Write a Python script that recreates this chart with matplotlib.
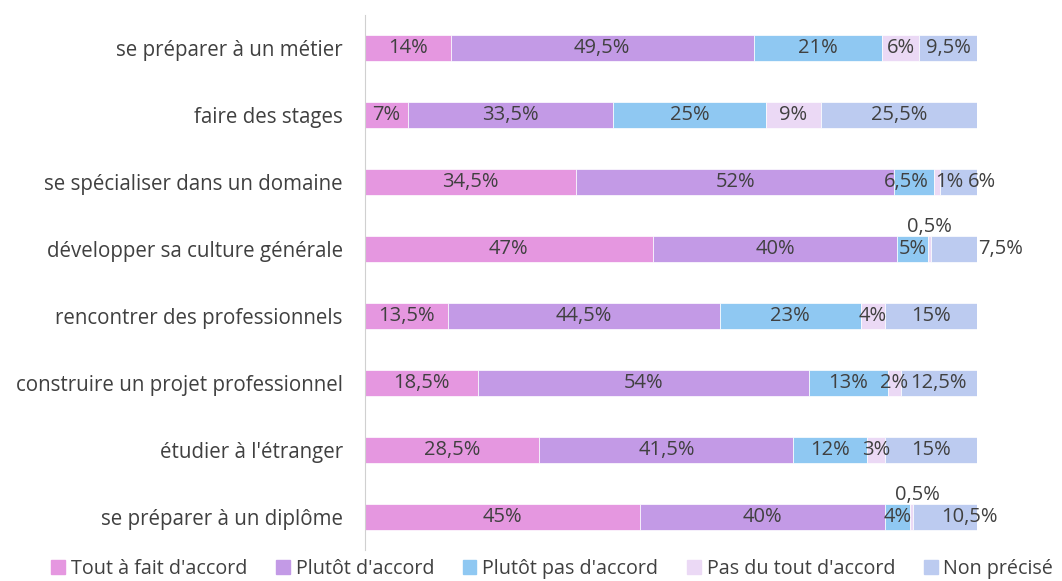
import matplotlib.pyplot as plt
from matplotlib.patches import Patch

plt.rcParams['font.family'] = ['Open Sans', 'DejaVu Sans']

categories = ["se préparer à un métier", "faire des stages", "se spécialiser dans un domaine",
              "développer sa culture générale", "rencontrer des professionnels",
              "construire un projet professionnel", "étudier à l'étranger", "se préparer à un diplôme"]
series = ["Tout à fait d'accord", "Plutôt d'accord", "Plutôt pas d'accord",
          "Pas du tout d'accord", "Non précisé"]
tout_a_fait = [14, 7, 34.5, 47, 13.5, 18.5, 28.5, 45]
plutot = [49.5, 33.5, 52, 40, 44.5, 54, 41.5, 40]
plutot_pas = [21, 25, 6.5, 5, 23, 13, 12, 4]
pas_du_tout = [6, 9, 1, 0.5, 4, 2, 3, 0.5]
non_precise = [9.5, 25.5, 6, 7.5, 15, 12.5, 15, 10.5]

colors = ['#E597E0', '#C39AE6', '#8FC8F2', '#EBD9F5', '#BCCBF0']
values = [tout_a_fait, plutot, plutot_pas, pas_du_tout, non_precise]

# label nudges (pixels) where labels would collide
nudges = {(2, 2): (-8, 0), (2, 3): (12, 0), (2, 4): (23, 0),
          (3, 3): (0, 22), (3, 4): (46, 0),
          (7, 3): (6, 22), (7, 4): (25, 0)}

fig = plt.figure(figsize=(10.62, 5.81), dpi=100)
ax = fig.add_axes([0.3437, 0.0525, 0.5763, 0.9225])

y = list(range(len(categories)))[::-1]
left = [0] * len(categories)
for s, (name, vals, c) in enumerate(zip(series, values, colors)):
    ax.barh(y, vals, left=left, height=0.39, color=c, label=name,
            edgecolor='white', linewidth=0.5)
    for i, v in enumerate(vals):
        dx, dy = nudges.get((i, s), (0, 0))
        ax.annotate(f"{v:g}%".replace('.', ','), (left[i] + v / 2, y[i]),
                    xytext=(dx, dy), textcoords='offset pixels',
                    ha='center', va='center', fontsize=14.5, color='#404040')
    left = [l + v for l, v in zip(left, vals)]

ax.set_xlim(0, 100)
ax.set_ylim(-0.5, len(categories) - 0.5)
ax.set_yticks(y)
ax.set_yticklabels(categories, fontsize=14.8, color='#404040')
ax.tick_params(axis='y', length=0, pad=16)
ax.set_xticks([])
for sp in ['top', 'right', 'bottom']:
    ax.spines[sp].set_visible(False)
ax.spines['left'].set_color('#D0D0D0')

handles = [Patch(color=c, label=n) for n, c in zip(series, colors)]
fig.legend(handles=handles, loc='lower center', bbox_to_anchor=(0.52, -0.027), ncol=5,
           frameon=False, fontsize=14.2, handlelength=0.7, handleheight=0.7,
           handletextpad=0.3, columnspacing=1.45, labelcolor='#404040')

fig.savefig('out.png', dpi=100)
